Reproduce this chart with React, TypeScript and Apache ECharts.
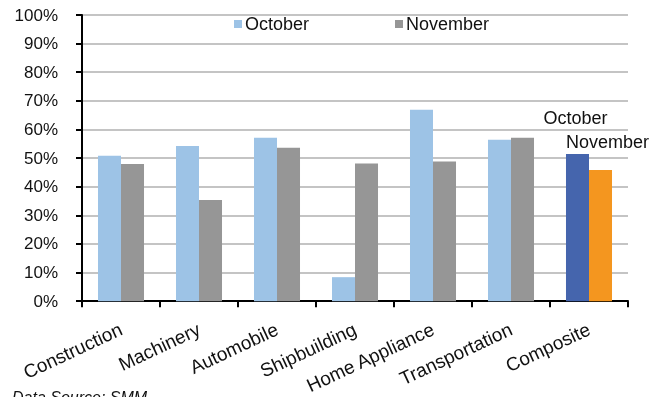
import React, { useEffect, useRef } from "react";
import * as echarts from "echarts";

const categories = [
  "Construction",
  "Machinery",
  "Automobile",
  "Shipbuilding",
  "Home Appliance",
  "Transportation",
  "Composite",
];
const octoberValues = [50.8, 54.2, 57.1, 8.4, 66.9, 56.4, 51.4];
const novemberValues = [47.9, 35.4, 53.6, 48.1, 48.8, 57.1, 45.8];
const yTicks = [0, 10, 20, 30, 40, 50, 60, 70, 80, 90, 100];

const FONT = "'Liberation Sans', Arial, sans-serif";

export default function App() {
  const ref = useRef<HTMLDivElement>(null);
  useEffect(() => {
    if (!ref.current) return;
    const chart = echarts.init(ref.current, undefined, { renderer: "svg" });
    const last = categories.length - 1;
    const octData = octoberValues.map((v, i) =>
      i === last
        ? {
            value: v,
            itemStyle: { color: "#4565AD" },
            label: {
              show: true,
              position: "top",
              distance: 27,
              offset: [-2, 0],
              formatter: "October",
              color: "#111",
              fontSize: 18,
              fontFamily: FONT,
            },
          }
        : v
    );
    const novData = novemberValues.map((v, i) =>
      i === last
        ? {
            value: v,
            itemStyle: { color: "#F4961F" },
            label: {
              show: true,
              position: "top",
              distance: 19,
              offset: [7, 0],
              formatter: "November",
              color: "#111",
              fontSize: 18,
              fontFamily: FONT,
            },
          }
        : v
    );
    chart.setOption({
      animation: false,
      textStyle: { fontFamily: FONT },
      grid: { left: 82, right: 39, top: 15, bottom: 94, containLabel: false },
      legend: [
        {
          data: ["October"],
          left: 229,
          top: 10,
          itemWidth: 8,
          itemHeight: 8,
          icon: "rect",
          itemGap: 5,
          textStyle: { fontSize: 18, color: "#111", fontFamily: FONT, padding: [0, 0, 0, -2] },
        },
        {
          data: ["November"],
          left: 390,
          top: 10,
          itemWidth: 8,
          itemHeight: 8,
          icon: "rect",
          textStyle: { fontSize: 18, color: "#111", fontFamily: FONT, padding: [0, 0, 0, -2] },
        },
      ],
      xAxis: {
        type: "category",
        data: categories,
        boundaryGap: true,
        axisLine: { lineStyle: { color: "#000", width: 2 } },
        axisTick: { show: true, length: 6, lineStyle: { color: "#000", width: 2 } },
        axisLabel: {
          rotate: 25,
          interval: 0,
          margin: 27,
          fontSize: 19,
          color: "#111",
          fontFamily: FONT,
        },
      },
      yAxis: {
        type: "value",
        min: 0,
        max: 100,
        interval: 10,
        axisLine: { show: true, lineStyle: { color: "#000", width: 2 } },
        axisTick: { show: true, length: 6, lineStyle: { color: "#000", width: 2 } },
        splitLine: { lineStyle: { color: "#C4C4C4", width: 2 } },
        axisLabel: {
          formatter: (v: number) => (yTicks.includes(v) ? v + "%" : ""),
          fontSize: 17,
          margin: 24,
          color: "#111",
          fontFamily: FONT,
        },
      },
      series: [
        {
          name: "October",
          type: "bar",
          data: octData,
          itemStyle: { color: "#9DC3E6" },
          barGap: "0%",
          barCategoryGap: "41%",
        },
        {
          name: "November",
          type: "bar",
          data: novData,
          itemStyle: { color: "#969696" },
          barGap: "0%",
          barCategoryGap: "41%",
        },
      ],
      graphic: [
        {
          type: "text",
          left: 12,
          top: 389,
          style: {
            text: "Data Source: SMM",
            fontSize: 16,
            fontStyle: "italic",
            fill: "#111",
            fontFamily: FONT,
          },
        },
      ],
    });
    return () => chart.dispose();
  }, []);
  return <div ref={ref} style={{ width: 667, height: 397, position: "fixed", left: 0, top: 0 }} />;
}
